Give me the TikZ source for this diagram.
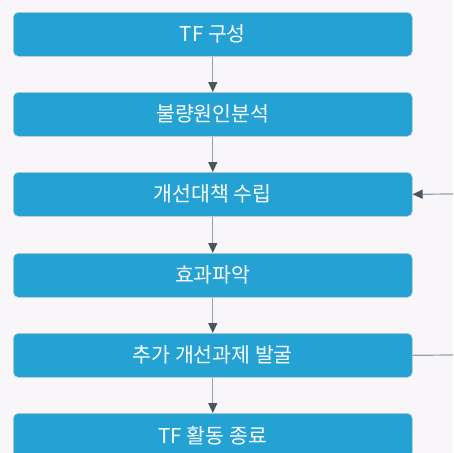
\documentclass[tikz,border=0pt]{standalone}
\usepackage{fontspec}
\newfontfamily\kr{Noto Sans CJK KR}
\usetikzlibrary{arrows.meta}
\definecolor{bg}{HTML}{F8F6F8}
\definecolor{boxfill}{HTML}{24A2D4}
\definecolor{boxline}{HTML}{C4CDD2}
\definecolor{conn}{HTML}{9AA0A6}
\definecolor{head}{HTML}{4A555E}
\tikzset{
  stepbox/.style={draw=boxline, line width=0.6pt, fill=boxfill, rounded corners=5pt,
    minimum width=399pt, minimum height=44pt, inner sep=0pt, text=white, font=\kr\fontsize{20.5}{24}\selectfont, anchor=north west},
  conarrow/.style={draw=conn, line width=1.2pt, -{Triangle[length=10pt,width=9pt,color=head]}},
  conline/.style={draw=conn, line width=1.2pt}
}
\begin{document}
\begin{tikzpicture}[x=1pt,y=1pt]
\fill[bg] (0,0) rectangle (453,-453);
\useasboundingbox (0,0) rectangle (453,-453);
\node[stepbox] (b1) at (13,-12) {TF 구성};
\node[stepbox] (b2) at (13,-92) {불량원인분석};
\node[stepbox] (b3) at (13,-172) {개선대책 수립};
\node[stepbox] (b4) at (13,-253) {효과파악};
\node[stepbox] (b5) at (13,-333) {추가 개선과제 발굴};
\node[stepbox] (b6) at (13,-413) {TF 활동 종료};
\draw[conarrow] (b1.south) -- (b2.north);
\draw[conarrow] (b2.south) -- (b3.north);
\draw[conarrow] (b3.south) -- (b4.north);
\draw[conarrow] (b4.south) -- (b5.north);
\draw[conarrow] (b5.south) -- (b6.north);
\coordinate (inR) at (453,-194);
\coordinate (outR) at (453,-355);
\draw[conarrow] (inR) -- (b3.east);
\draw[conline] (b5.east) -- (outR);
\end{tikzpicture}
\end{document}
